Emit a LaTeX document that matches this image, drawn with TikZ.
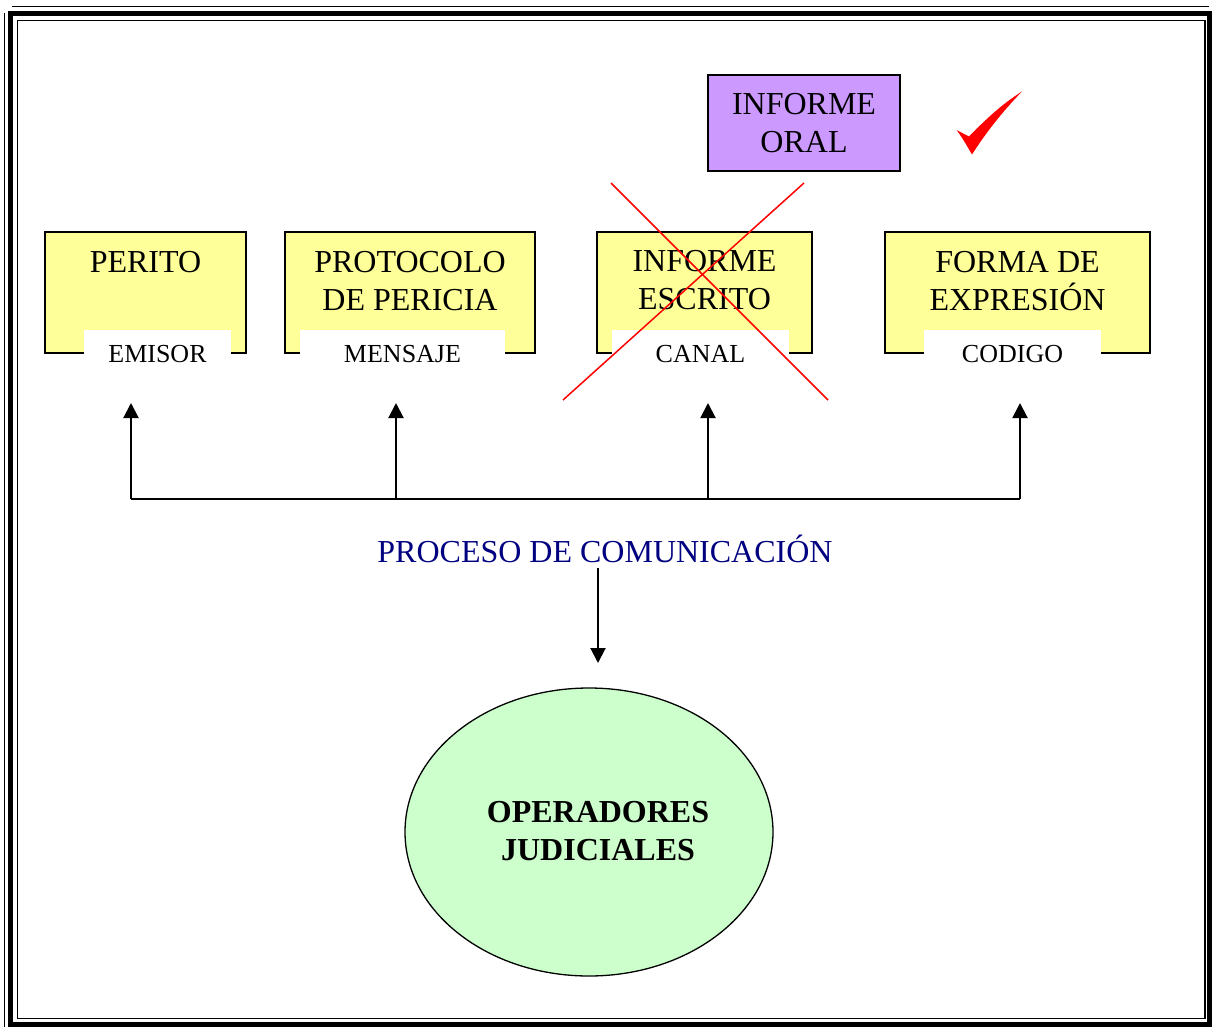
\documentclass[tikz,border=0pt]{standalone}
\usepackage{fontspec}
\setmainfont{Liberation Serif}
\usetikzlibrary{shapes.geometric,arrows.meta}
\definecolor{boxyellow}{HTML}{FFFF99}
\definecolor{boxpurple}{HTML}{CC99FF}
\definecolor{ellgreen}{HTML}{CCFFCC}
\definecolor{navyblue}{HTML}{000080}
\begin{document}
\begin{tikzpicture}[x=1pt,y=-1pt,
  ybox/.style={draw=black, line width=2pt, fill=boxyellow, inner sep=0pt, outer sep=0pt, anchor=north west},
  lbl/.style={fill=white, inner sep=0pt, outer sep=0pt, anchor=north west, minimum height=48pt,
    font=\fontsize{26}{30}\selectfont, text height=17pt, text depth=0pt},
  btxt/.style={inner sep=0pt, anchor=north, align=center, font=\fontsize{32}{38}\selectfont},
  arr/.style={line width=2pt, -{Triangle[width=15pt,length=15pt]}},
  ln/.style={line width=2pt},
  cross/.style={draw=red, line width=1.5pt}]
\useasboundingbox (0,0) rectangle (1214,1027);
\fill[white] (0,0) rectangle (1214,1027);

% page frame
\draw[line width=1.5pt] (12,6.5) -- (1209,6.5);
\draw[line width=5pt] (10.5,13.5) rectangle (1209.5,1024);
\draw[line width=1.5pt] (17.5,20.5) rectangle (1205,1018.5);
\draw[line width=1.5pt] (4.5,13) -- (4.5,1027);

% yellow boxes
\node[ybox, minimum width=201pt, minimum height=121pt] (b1) at (45,232) {};
\node[ybox, minimum width=250pt, minimum height=121pt] (b2) at (285,232) {};
\node[ybox, minimum width=215pt, minimum height=121pt] (b3) at (597,232) {};
\node[ybox, minimum width=265pt, minimum height=121pt] (b4) at (885,232) {};

\node[btxt] (t1) at (145.5,251.3) {PERITO};
\node[btxt] (t2) at (410,251.3) {PROTOCOLO\\DE PERICIA};
\node[btxt] (t3) at (704.5,250) {INFORME\\ESCRITO};
\node[btxt] (t4) at (1017.5,251.3) {FORMA DE\\EXPRESIÓN};

% white labels
\node[lbl, minimum width=147pt] (l1) at (84,329.5) {EMISOR};
\node[lbl, minimum width=205pt] (l2) at (300,329.5) {MENSAJE};
\node[lbl, minimum width=177pt] (l3) at (612,329.5) {CANAL};
\node[lbl, minimum width=177pt] (l4) at (924,329.5) {CODIGO};

% informe oral
\node[draw=black, line width=2pt, fill=boxpurple, inner sep=0pt, outer sep=0pt,
  minimum width=192pt, minimum height=96pt, align=center,
  font=\fontsize{32}{38}\selectfont] (oral) at (804,123) {INFORME\\ORAL};

% check mark
\fill[red] (956.5,130) -- (969,136.5)
  .. controls (985,120) and (1002,104) .. (1022,91.5)
  .. controls (1002,112) and (985,134) .. (972,154.5)
  .. controls (967,146) and (962,137) .. cycle;

% red cross
\coordinate (xa) at (611,183);
\coordinate (xb) at (828,400);
\coordinate (xc) at (804,183);
\coordinate (xd) at (563,400);
\draw[cross] (xa) -- (xb);
\draw[cross] (xc) -- (xd);

% bus and arrows
\coordinate (j1) at (131,499);
\coordinate (j2) at (396,499);
\coordinate (j3) at (708,499);
\coordinate (j4) at (1020,499);
\coordinate (a1) at (131,403);
\coordinate (a2) at (396,403);
\coordinate (a3) at (708,403);
\coordinate (a4) at (1020,403);
\draw[ln] (j1) -- (j4);
\draw[arr] (j1) -- (a1);
\draw[arr] (j2) -- (a2);
\draw[arr] (j3) -- (a3);
\draw[arr] (j4) -- (a4);

\node[inner sep=0pt, anchor=base, text=navyblue, font=\fontsize{32}{38}\selectfont] (proc) at (605,562) {PROCESO DE COMUNICACIÓN};

% ellipse
\node[ellipse, draw=black, line width=1.3pt, fill=ellgreen, inner sep=0pt,
  minimum width=368pt, minimum height=288pt] (oper) at (589,832) {};
\node[btxt, font=\bfseries\fontsize{32}{38}\selectfont] (opt) at (598,801.3) {OPERADORES\\JUDICIALES};

\coordinate (d1) at (598,568);
\coordinate (d2) at (598,663);
\draw[arr] (d1) -- (d2);
\end{tikzpicture}
\end{document}
